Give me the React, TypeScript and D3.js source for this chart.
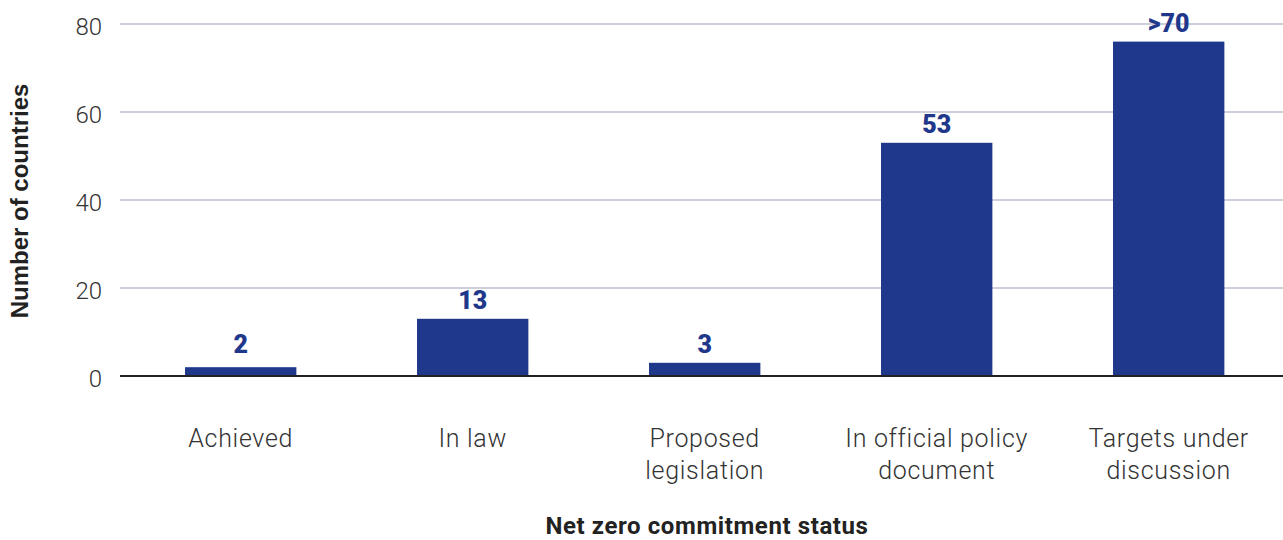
import React from "react";
import * as d3 from "d3";

const categories: string[][] = [
  ["Achieved"],
  ["In law"],
  ["Proposed", "legislation"],
  ["In official policy", "document"],
  ["Targets under", "discussion"],
];
const values: number[] = [2, 13, 3, 53, 76];
const valueLabels: string[] = ["2", "13", "3", "53", ">70"];
const yTicks: number[] = [0, 20, 40, 60, 80];
const yTitle = "Number of countries";
const xTitle = "Net zero commitment status";

const W = 1283;
const H = 540;
const BAR = "#1f388b";

export default function App() {
  const idx = values.map((_, i) => i);
  const x = d3
    .scaleBand<number>()
    .domain(idx)
    .range([124.7, 1284.7])
    .paddingInner(0.52)
    .paddingOuter(0.26);
  const y = d3.scaleLinear().domain([0, 80]).range([376, 24]);

  return (
    <svg
      width={W}
      height={H}
      style={{ position: "absolute", left: 0, top: 0, background: "#fff" }}
    >
      {yTicks.map((t) => (
        <g key={t}>
          {t !== 0 && (
            <line
              x1={120}
              x2={W}
              y1={y(t)}
              y2={y(t)}
              stroke="#bcc0cb"
              strokeWidth={1.5}
            />
          )}
          <text
            x={102}
            y={y(t) + 11}
            textAnchor="end"
            fontFamily="Roboto"
            fontWeight={300}
            fontSize={24}
            fill="#333"
          >
            {t}
          </text>
        </g>
      ))}
      {values.map((v, i) => (
        <g key={i}>
          <rect
            x={x(i)}
            y={y(v)}
            width={x.bandwidth()}
            height={y(0) - y(v)}
            fill={BAR}
          />
          <text
            x={(x(i) as number) + x.bandwidth() / 2}
            y={Math.min(y(v), y(3)) - 10}
            textAnchor="middle"
            fontFamily="Roboto"
            fontWeight={900}
            fontSize={25}
            fill={BAR}
          >
            {valueLabels[i]}
          </text>
          {categories[i].map((line, j) => (
            <text
              key={j}
              x={(x(i) as number) + x.bandwidth() / 2}
              y={447 + j * 32}
              textAnchor="middle"
              fontFamily="Roboto"
              fontWeight={300}
              fontSize={25}
              letterSpacing={0.7}
              fill="#333"
            >
              {line}
            </text>
          ))}
        </g>
      ))}
      <line x1={120} x2={W} y1={y(0)} y2={y(0)} stroke="#222" strokeWidth={2} />
      <text
        transform={`translate(28,201) rotate(-90)`}
        textAnchor="middle"
        fontFamily="Liberation Sans"
        fontWeight={700}
        fontSize={24}
        fill="#222"
      >
        {yTitle}
      </text>
      <text
        x={707}
        y={534}
        textAnchor="middle"
        fontFamily="Roboto"
        fontWeight={700}
        fontSize={24}
        letterSpacing={0.6}
        fill="#222"
      >
        {xTitle}
      </text>
    </svg>
  );
}
